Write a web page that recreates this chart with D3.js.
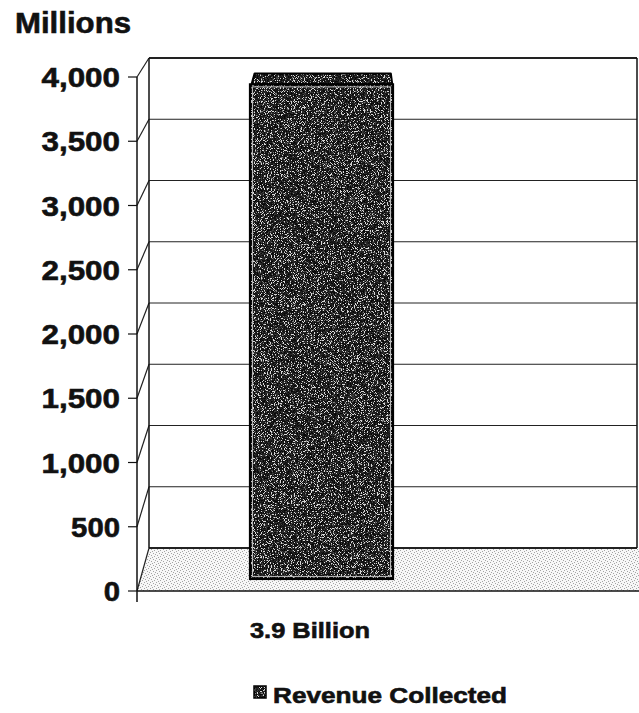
<!DOCTYPE html>
<html>
<head>
<meta charset="utf-8">
<script src="https://cdn.jsdelivr.net/npm/d3@7"></script>
<style>
  body { margin: 0; background: #fff; }
  svg { display: block; }
  text { font-family: Arial, "Liberation Sans", sans-serif; font-weight: bold; fill: #111; stroke: #111; stroke-width: 0.6; }
</style>
</head>
<body>
<svg id="chart" width="639" height="713"></svg>
<script>
// chart data
const categories = ['3.9 Billion'];
const revenue = [3900];
const yTicks = [0, 500, 1000, 1500, 2000, 2500, 3000, 3500, 4000];
const seriesName = 'Revenue Collected';
const unitLabel = 'Millions';

const width = 639, height = 713;
const svg = d3.select('#chart');

// front plane and back plane of the 3d box (slight perspective)
const yFront = d3.scaleLinear().domain([0, 4000]).range([591, 77]);
const yBack = d3.scaleLinear().domain([0, 4000]).range([548, 58]);
const xFrontLeft = 137, xBackLeft = 149, xBackRight = 637;
const vanishX = 347, shiftK = (xBackLeft - xFrontLeft) / (vanishX - xFrontLeft);

function proj(x, v, t) {
  const y = yFront(v) + (yBack(v) - yFront(v)) * t;
  return [x + (vanishX - x) * shiftK * t, y];
}

const xScale = d3.scaleBand().domain(categories).range([137, 506]).paddingInner(0).paddingOuter(0.79);

const defs = svg.append('defs');

// speckled dark fill for the bar
const f = defs.append('filter').attr('id', 'speck')
  .attr('x', 0).attr('y', 0).attr('width', '100%').attr('height', '100%')
  .attr('color-interpolation-filters', 'sRGB');
f.append('feTurbulence').attr('type', 'fractalNoise').attr('baseFrequency', 1.3)
  .attr('numOctaves', 1).attr('seed', 4).attr('result', 'n');
f.append('feColorMatrix').attr('type', 'matrix')
  .attr('values', '1 0 0 0 0  1 0 0 0 0  1 0 0 0 0  0 0 0 0 1');
const ct1 = f.append('feComponentTransfer');
['feFuncR', 'feFuncG', 'feFuncB'].forEach(fn => {
  ct1.append(fn).attr('type', 'linear').attr('slope', 3.5).attr('intercept', -1.25);
});
const ct = f.append('feComponentTransfer');
['feFuncR', 'feFuncG', 'feFuncB'].forEach(fn => {
  ct.append(fn).attr('type', 'discrete')
    .attr('tableValues', '0.03 0.05 0.07 0.09 0.11 0.14 0.17 0.24 0.5 0.85');
});
f.append('feComposite').attr('operator', 'in').attr('in2', 'SourceGraphic');

// light stipple for the floor
const pat = defs.append('pattern').attr('id', 'stipple')
  .attr('width', 6).attr('height', 6).attr('patternUnits', 'userSpaceOnUse');
pat.append('rect').attr('width', 6).attr('height', 6).attr('fill', '#f7f7f7');
[[0, 0], [3, 1], [1, 3], [4, 4], [2, 5], [5, 2]].forEach(d => {
  pat.append('rect').attr('x', d[0]).attr('y', d[1]).attr('width', 1).attr('height', 1).attr('fill', '#a4a4a4');
});

// floor
const floorPts = [[xFrontLeft, yFront(0)], [width + 20, yFront(0)], [width + 20, yBack(0)], [xBackLeft, yBack(0)]];
svg.append('polygon').attr('points', floorPts.map(p => p.join(',')).join(' '))
  .attr('fill', 'url(#stipple)');

// back wall gridlines
svg.append('g').selectAll('line').data(yTicks).join('line')
  .attr('x1', xBackLeft).attr('x2', xBackRight)
  .attr('y1', d => yBack(d)).attr('y2', d => yBack(d))
  .attr('stroke', '#222').attr('stroke-width', d => (d === 0 || d === 4000) ? 1.8 : 1);

// left wall diagonals
svg.append('g').selectAll('line').data(yTicks).join('line')
  .attr('x1', xFrontLeft).attr('x2', xBackLeft)
  .attr('y1', d => yFront(d)).attr('y2', d => yBack(d))
  .attr('stroke', '#222').attr('stroke-width', 1.2);

// wall edges
svg.append('line').attr('x1', xBackLeft).attr('x2', xBackLeft)
  .attr('y1', yBack(0)).attr('y2', yBack(4000)).attr('stroke', '#111').attr('stroke-width', 1.5);
svg.append('line').attr('x1', xBackRight).attr('x2', xBackRight)
  .attr('y1', yBack(0)).attr('y2', yBack(4000)).attr('stroke', '#111').attr('stroke-width', 1.5);
svg.append('line').attr('x1', xFrontLeft).attr('x2', xFrontLeft)
  .attr('y1', yFront(0) + 11).attr('y2', yFront(4000)).attr('stroke', '#111').attr('stroke-width', 1.5);
svg.append('line').attr('x1', xFrontLeft).attr('x2', width)
  .attr('y1', yFront(0)).attr('y2', yFront(0)).attr('stroke', '#111').attr('stroke-width', 1.5);

// y ticks and labels
const yAxis = svg.append('g');
yAxis.selectAll('line').data(yTicks).join('line')
  .attr('x1', 128).attr('x2', xFrontLeft)
  .attr('y1', d => yFront(d)).attr('y2', d => yFront(d))
  .attr('stroke', '#111').attr('stroke-width', 1.2);
const fmt = d3.format(',');
yAxis.selectAll('text').data(yTicks).join('text')
  .attr('x', 120).attr('y', d => yFront(d) + 10)
  .attr('text-anchor', 'end')
  .attr('font-size', 28)
  .attr('textLength', d => fmt(d).length * 16.3 - (fmt(d).includes(',') ? 3 : 0))
  .attr('lengthAdjust', 'spacingAndGlyphs')
  .text(d => fmt(d));

svg.append('text').attr('x', 15).attr('y', 33).attr('font-size', 30)
  .attr('textLength', 116).attr('lengthAdjust', 'spacingAndGlyphs').text(unitLabel);

// bars
const tFront = 0.28, tBack = 0.84;
const barG = svg.append('g');
categories.forEach((c, i) => {
  const x0 = xScale(c), x1 = x0 + xScale.bandwidth();
  const v = revenue[i];
  const y0 = proj(x0, 0, tFront)[1], y1 = proj(x0, v, tFront)[1];
  const top = [proj(x0, v, tFront), proj(x1, v, tFront), proj(x1, v, tBack), proj(x0, v, tBack)];
  barG.append('polygon').attr('points', top.map(p => p.join(',')).join(' '))
    .attr('fill', '#555').attr('filter', 'url(#speck)');
  barG.append('polygon').attr('points', top.map(p => p.join(',')).join(' '))
    .attr('fill', 'none').attr('stroke', '#000').attr('stroke-width', 2).attr('stroke-linejoin', 'round');
  barG.append('rect').attr('x', x0).attr('y', y1).attr('width', x1 - x0).attr('height', y0 - y1)
    .attr('fill', '#555').attr('filter', 'url(#speck)');
  barG.append('rect').attr('x', x0 + 2.5).attr('y', y1 + 2.5).attr('width', x1 - x0 - 5).attr('height', y0 - y1 - 5)
    .attr('fill', 'none').attr('stroke', '#bbb').attr('stroke-width', 1);
  barG.append('rect').attr('x', x0).attr('y', y1).attr('width', x1 - x0).attr('height', y0 - y1)
    .attr('fill', 'none').attr('stroke', '#000').attr('stroke-width', 2.2);

  svg.append('text').attr('x', x0).attr('y', 638).attr('font-size', 22)
    .attr('textLength', 120).attr('lengthAdjust', 'spacingAndGlyphs').text(c);
});

// legend
const lg = svg.append('g');
lg.append('rect').attr('x', 254).attr('y', 686).attr('width', 12).attr('height', 12)
  .attr('fill', '#555').attr('filter', 'url(#speck)');
lg.append('rect').attr('x', 254).attr('y', 686).attr('width', 12).attr('height', 12)
  .attr('fill', 'none').attr('stroke', '#000').attr('stroke-width', 1.5);
lg.append('text').attr('x', 273).attr('y', 703).attr('font-size', 22)
  .attr('textLength', 234).attr('lengthAdjust', 'spacingAndGlyphs').text(seriesName);
</script>
</body>
</html>
